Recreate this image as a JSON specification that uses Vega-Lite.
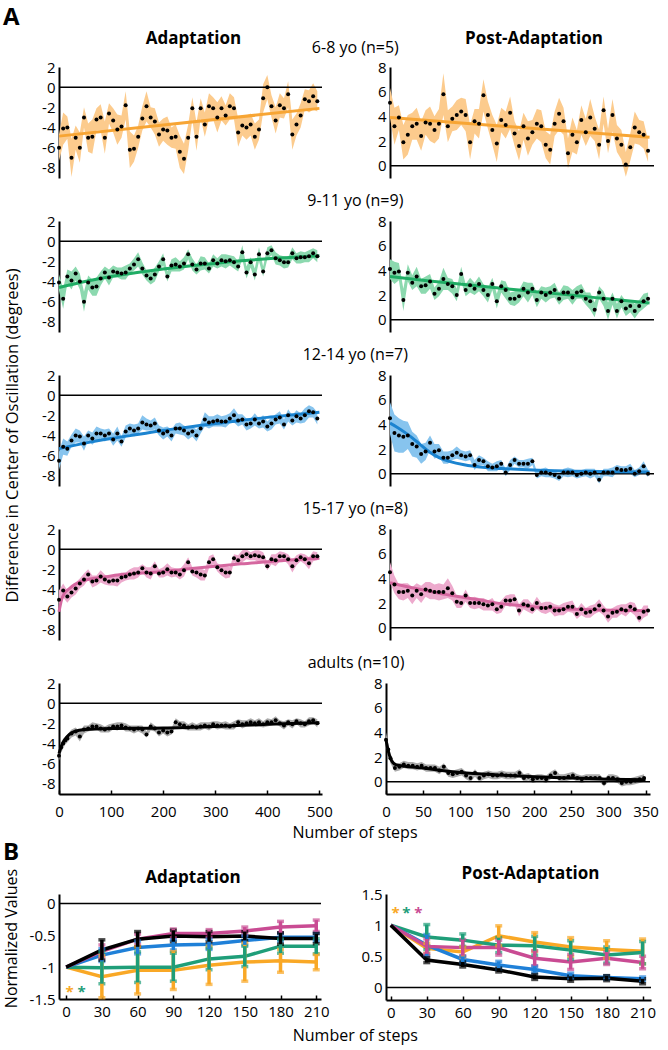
{
"$schema":"https://vega.github.io/schema/vega-lite/v6.json",
"padding":{"left":3,"top":6,"right":2,"bottom":3},
"background":"white",
"title":{"text":"A","anchor":"start","fontSize":24,"fontWeight":"bold","offset":0},
"spacing":0,
"datasets":{
"a1":[{"x":0,"y":-6,"e":1.3},{"x":8,"y":-4.1,"e":1.6},{"x":16,"y":-4,"e":1.1},{"x":24,"y":-7,"e":1.9},{"x":32,"y":-5,"e":1.2},{"x":40,"y":-6,"e":1.5},{"x":48,"y":-3,"e":1},{"x":56,"y":-5,"e":1.4},{"x":64,"y":-4.9,"e":1.7},{"x":72,"y":-3.2,"e":1.1},{"x":80,"y":-3,"e":1.3},{"x":88,"y":-5,"e":1.6},{"x":96,"y":-2.6,"e":1},{"x":104,"y":-3.3,"e":1.2},{"x":112,"y":-4.2,"e":1.5},{"x":120,"y":-3.9,"e":1.1},{"x":128,"y":-1.8,"e":1.4},{"x":136,"y":-6.2,"e":1.8},{"x":144,"y":-6.1,"e":1.3},{"x":152,"y":-4.9,"e":1.1},{"x":160,"y":-3.1,"e":1.2},{"x":168,"y":-1.9,"e":1.5},{"x":176,"y":-3,"e":1},{"x":184,"y":-3.4,"e":1.3},{"x":192,"y":-4.7,"e":1.2},{"x":200,"y":-4.2,"e":1.1},{"x":208,"y":-4.3,"e":1.4},{"x":216,"y":-5,"e":1},{"x":224,"y":-4.9,"e":1.2},{"x":232,"y":-6.4,"e":1.6},{"x":240,"y":-7.1,"e":1.5},{"x":248,"y":-5,"e":1.3},{"x":256,"y":-2.1,"e":1.1},{"x":264,"y":-4.9,"e":1.4},{"x":272,"y":-2.1,"e":1},{"x":280,"y":-3.7,"e":1.2},{"x":288,"y":-1.9,"e":1.3},{"x":296,"y":-2.1,"e":1.1},{"x":304,"y":-3,"e":1.5},{"x":312,"y":-2.1,"e":1.2},{"x":320,"y":-2.8,"e":1},{"x":328,"y":-1.9,"e":1.3},{"x":336,"y":-2.1,"e":1.1},{"x":344,"y":-4.5,"e":1.4},{"x":352,"y":-3.8,"e":1},{"x":360,"y":-4,"e":1.2},{"x":368,"y":-3.7,"e":1.1},{"x":376,"y":-4.9,"e":1.3},{"x":384,"y":-4.2,"e":1},{"x":392,"y":-1.1,"e":1.4},{"x":400,"y":0,"e":1.2},{"x":408,"y":-1.9,"e":1.1},{"x":416,"y":-3.3,"e":1.3},{"x":424,"y":-1.8,"e":1.2},{"x":432,"y":-2.1,"e":1},{"x":440,"y":-0.7,"e":1.3},{"x":448,"y":-4.7,"e":1.5},{"x":456,"y":-3.7,"e":1.1},{"x":464,"y":-2.8,"e":1.2},{"x":472,"y":-1.2,"e":1},{"x":480,"y":-1.4,"e":1.1},{"x":488,"y":-0.9,"e":1.3},{"x":496,"y":-1.4,"e":1}],
"p1":[{"x":0,"y":5.1,"e":1.2},{"x":6,"y":3.2,"e":1.5},{"x":12,"y":3.9,"e":1},{"x":18,"y":1.9,"e":1.4},{"x":24,"y":2.5,"e":1.6},{"x":30,"y":3.2,"e":1.1},{"x":36,"y":3.4,"e":1.3},{"x":42,"y":2.4,"e":1.2},{"x":48,"y":3.5,"e":1},{"x":54,"y":3.4,"e":1.4},{"x":60,"y":2.9,"e":1.1},{"x":66,"y":3.4,"e":1.2},{"x":72,"y":5.8,"e":1.7},{"x":78,"y":3.2,"e":1.3},{"x":84,"y":3.8,"e":1},{"x":90,"y":4.1,"e":1.2},{"x":96,"y":4.4,"e":1.1},{"x":102,"y":4.1,"e":1.3},{"x":108,"y":1.9,"e":1.4},{"x":114,"y":3.6,"e":1},{"x":120,"y":3.4,"e":1.2},{"x":126,"y":5.7,"e":1.3},{"x":132,"y":4.1,"e":1.1},{"x":138,"y":2.9,"e":1.2},{"x":144,"y":1.8,"e":1.5},{"x":150,"y":3.7,"e":1},{"x":156,"y":3.3,"e":1.1},{"x":162,"y":4.3,"e":1.3},{"x":168,"y":2.6,"e":1},{"x":174,"y":1.6,"e":1.2},{"x":180,"y":3.2,"e":1.1},{"x":186,"y":2.2,"e":1.4},{"x":192,"y":2.7,"e":1},{"x":198,"y":3.4,"e":1.2},{"x":204,"y":3.2,"e":1.3},{"x":210,"y":1.7,"e":1.1},{"x":216,"y":1.3,"e":1.2},{"x":222,"y":3.4,"e":1},{"x":228,"y":4.2,"e":1.3},{"x":234,"y":3.6,"e":1.1},{"x":240,"y":1,"e":1.2},{"x":246,"y":2.5,"e":1.4},{"x":252,"y":1.9,"e":1},{"x":258,"y":3.7,"e":1.2},{"x":264,"y":2.7,"e":1.1},{"x":270,"y":3.9,"e":1.5},{"x":276,"y":3,"e":1},{"x":282,"y":1.7,"e":1.2},{"x":288,"y":4.5,"e":1.1},{"x":294,"y":2,"e":1},{"x":300,"y":4.1,"e":1.3},{"x":306,"y":2.2,"e":1.1},{"x":312,"y":1.7,"e":1.2},{"x":318,"y":0.1,"e":1},{"x":324,"y":1.5,"e":1.1},{"x":330,"y":3.1,"e":1.3},{"x":336,"y":2.7,"e":1},{"x":342,"y":2.5,"e":1.1},{"x":348,"y":1.2,"e":0.9}],
"a2":[{"x":0,"y":-4.1,"e":0.8},{"x":8,"y":-5.7,"e":1},{"x":16,"y":-3.5,"e":0.7},{"x":24,"y":-3.9,"e":0.9},{"x":32,"y":-3.2,"e":0.7},{"x":40,"y":-4,"e":0.8},{"x":48,"y":-6,"e":1},{"x":56,"y":-4.1,"e":0.7},{"x":64,"y":-4.6,"e":0.8},{"x":72,"y":-4.5,"e":0.9},{"x":80,"y":-3.7,"e":0.7},{"x":88,"y":-3.1,"e":0.6},{"x":96,"y":-3.6,"e":0.8},{"x":104,"y":-3,"e":0.6},{"x":112,"y":-3.1,"e":0.5},{"x":120,"y":-3.2,"e":0.6},{"x":128,"y":-3.1,"e":0.7},{"x":136,"y":-2.7,"e":0.5},{"x":144,"y":-2.3,"e":0.6},{"x":152,"y":-1.8,"e":0.7},{"x":160,"y":-2.7,"e":0.6},{"x":168,"y":-3.4,"e":0.5},{"x":176,"y":-3.7,"e":0.6},{"x":184,"y":-3.3,"e":0.7},{"x":192,"y":-2.5,"e":0.5},{"x":200,"y":-1.8,"e":0.6},{"x":208,"y":-3.5,"e":0.5},{"x":216,"y":-2.4,"e":0.6},{"x":224,"y":-2.3,"e":0.7},{"x":232,"y":-2.5,"e":0.5},{"x":240,"y":-2.2,"e":0.6},{"x":248,"y":-1.3,"e":0.5},{"x":256,"y":-2.3,"e":0.6},{"x":264,"y":-2.8,"e":0.5},{"x":272,"y":-2.2,"e":0.7},{"x":280,"y":-2.2,"e":0.6},{"x":288,"y":-2.7,"e":0.5},{"x":296,"y":-1.9,"e":0.6},{"x":304,"y":-2.2,"e":0.5},{"x":312,"y":-1.9,"e":0.6},{"x":320,"y":-2,"e":0.7},{"x":328,"y":-1.9,"e":0.5},{"x":336,"y":-2.1,"e":0.6},{"x":344,"y":-2.5,"e":0.5},{"x":352,"y":-1.1,"e":0.7},{"x":360,"y":-3.1,"e":0.6},{"x":368,"y":-2.1,"e":0.5},{"x":376,"y":-3.3,"e":0.6},{"x":384,"y":-1.3,"e":0.7},{"x":392,"y":-3,"e":0.5},{"x":400,"y":-1.2,"e":0.6},{"x":408,"y":-0.9,"e":0.5},{"x":416,"y":-1.7,"e":0.6},{"x":424,"y":-1.9,"e":0.5},{"x":432,"y":-2.1,"e":0.6},{"x":440,"y":-2.1,"e":0.5},{"x":448,"y":-1.2,"e":0.6},{"x":456,"y":-1.7,"e":0.5},{"x":464,"y":-1.6,"e":0.6},{"x":472,"y":-1.6,"e":0.5},{"x":480,"y":-1.5,"e":0.6},{"x":488,"y":-1.2,"e":0.5},{"x":496,"y":-1.5,"e":0.6}],
"p2":[{"x":0,"y":4.1,"e":0.8},{"x":6,"y":3.8,"e":0.9},{"x":12,"y":3.9,"e":0.7},{"x":18,"y":1.6,"e":0.9},{"x":24,"y":3.8,"e":0.7},{"x":30,"y":3,"e":0.6},{"x":36,"y":3.5,"e":0.8},{"x":42,"y":2.7,"e":0.6},{"x":48,"y":2.8,"e":0.7},{"x":54,"y":3.1,"e":0.6},{"x":60,"y":2.1,"e":0.5},{"x":66,"y":2.5,"e":0.6},{"x":72,"y":3.3,"e":0.9},{"x":78,"y":2.9,"e":0.5},{"x":84,"y":2.7,"e":0.6},{"x":90,"y":2,"e":0.5},{"x":96,"y":3.7,"e":0.6},{"x":102,"y":2.4,"e":0.5},{"x":108,"y":2.8,"e":0.6},{"x":114,"y":2.5,"e":0.5},{"x":120,"y":2.9,"e":0.6},{"x":126,"y":2.4,"e":0.5},{"x":132,"y":2,"e":0.6},{"x":138,"y":2.9,"e":0.5},{"x":144,"y":1.5,"e":0.6},{"x":150,"y":2.7,"e":0.5},{"x":156,"y":2.4,"e":0.7},{"x":162,"y":1.7,"e":0.5},{"x":168,"y":1.7,"e":0.6},{"x":174,"y":1.9,"e":0.5},{"x":180,"y":2.5,"e":0.6},{"x":186,"y":2.2,"e":0.8},{"x":192,"y":2.5,"e":0.5},{"x":198,"y":1.6,"e":0.6},{"x":204,"y":2.2,"e":0.5},{"x":210,"y":2,"e":0.6},{"x":216,"y":2.2,"e":0.5},{"x":222,"y":2.4,"e":0.6},{"x":228,"y":1.7,"e":0.5},{"x":234,"y":2.2,"e":0.6},{"x":240,"y":2.2,"e":0.5},{"x":246,"y":1.8,"e":0.6},{"x":252,"y":2.2,"e":0.5},{"x":258,"y":2.3,"e":0.6},{"x":264,"y":1.7,"e":0.5},{"x":270,"y":1.5,"e":0.7},{"x":276,"y":0.8,"e":0.6},{"x":282,"y":2.2,"e":0.5},{"x":288,"y":1.7,"e":0.6},{"x":294,"y":0.7,"e":0.7},{"x":300,"y":1.7,"e":0.5},{"x":306,"y":0.7,"e":0.6},{"x":312,"y":1.5,"e":0.5},{"x":318,"y":0.9,"e":0.6},{"x":324,"y":1.1,"e":0.5},{"x":330,"y":0.7,"e":0.6},{"x":336,"y":1.1,"e":0.5},{"x":342,"y":1.5,"e":0.6},{"x":348,"y":1.7,"e":0.5}],
"a3":[{"x":0,"y":-6.5,"e":0.9},{"x":8,"y":-5.1,"e":0.8},{"x":16,"y":-5.3,"e":0.7},{"x":24,"y":-4.5,"e":0.6},{"x":32,"y":-4,"e":0.7},{"x":40,"y":-4.1,"e":0.6},{"x":48,"y":-4.8,"e":0.7},{"x":56,"y":-4,"e":0.5},{"x":64,"y":-4.3,"e":0.6},{"x":72,"y":-3.8,"e":0.7},{"x":80,"y":-3.8,"e":0.5},{"x":88,"y":-4,"e":0.6},{"x":96,"y":-3.8,"e":0.5},{"x":104,"y":-4.4,"e":0.6},{"x":112,"y":-3.8,"e":0.7},{"x":120,"y":-4.6,"e":0.5},{"x":128,"y":-3.6,"e":0.6},{"x":136,"y":-3.3,"e":0.5},{"x":144,"y":-3.5,"e":0.6},{"x":152,"y":-3.3,"e":0.5},{"x":160,"y":-2.7,"e":0.7},{"x":168,"y":-2.9,"e":0.6},{"x":176,"y":-3,"e":0.5},{"x":184,"y":-2.8,"e":0.6},{"x":192,"y":-3.5,"e":0.5},{"x":200,"y":-3.8,"e":0.6},{"x":208,"y":-3.6,"e":0.5},{"x":216,"y":-4,"e":0.6},{"x":224,"y":-3.3,"e":0.5},{"x":232,"y":-3.3,"e":0.6},{"x":240,"y":-3.5,"e":0.5},{"x":248,"y":-3.8,"e":0.6},{"x":256,"y":-3.6,"e":0.5},{"x":264,"y":-4,"e":0.6},{"x":272,"y":-3.3,"e":0.5},{"x":280,"y":-2.4,"e":0.7},{"x":288,"y":-2.7,"e":0.6},{"x":296,"y":-2.6,"e":0.5},{"x":304,"y":-2.5,"e":0.6},{"x":312,"y":-2.6,"e":0.5},{"x":320,"y":-2.6,"e":0.6},{"x":328,"y":-2.3,"e":0.5},{"x":336,"y":-2,"e":0.7},{"x":344,"y":-2.5,"e":0.6},{"x":352,"y":-2.4,"e":0.5},{"x":360,"y":-2.9,"e":0.6},{"x":368,"y":-2.8,"e":0.5},{"x":376,"y":-2.4,"e":0.6},{"x":384,"y":-2.8,"e":0.5},{"x":392,"y":-2.6,"e":0.6},{"x":400,"y":-3.1,"e":0.5},{"x":408,"y":-2.8,"e":0.6},{"x":416,"y":-2.4,"e":0.5},{"x":424,"y":-2.2,"e":0.6},{"x":432,"y":-2.9,"e":0.5},{"x":440,"y":-2,"e":0.6},{"x":448,"y":-2.5,"e":0.5},{"x":456,"y":-2.1,"e":0.6},{"x":464,"y":-2.3,"e":0.5},{"x":472,"y":-2,"e":0.7},{"x":480,"y":-1.6,"e":0.6},{"x":488,"y":-1.7,"e":0.5},{"x":496,"y":-2.3,"e":0.6}],
"p3":[{"x":0,"y":4.5,"e":1.3},{"x":6,"y":3.3,"e":1.5},{"x":12,"y":3.1,"e":1.4},{"x":18,"y":3,"e":1.3},{"x":24,"y":3.1,"e":1.1},{"x":30,"y":2.4,"e":1},{"x":36,"y":2.2,"e":0.9},{"x":42,"y":1.6,"e":0.8},{"x":48,"y":1.8,"e":0.7},{"x":54,"y":2.5,"e":0.6},{"x":60,"y":1.8,"e":0.6},{"x":66,"y":1.9,"e":0.5},{"x":72,"y":1.3,"e":0.5},{"x":78,"y":1.3,"e":0.5},{"x":84,"y":1.5,"e":0.4},{"x":90,"y":1.7,"e":0.5},{"x":96,"y":1.5,"e":0.4},{"x":102,"y":1.4,"e":0.4},{"x":108,"y":1.5,"e":0.4},{"x":114,"y":0.7,"e":0.4},{"x":120,"y":1.1,"e":0.4},{"x":126,"y":1,"e":0.3},{"x":132,"y":0.6,"e":0.4},{"x":138,"y":0.5,"e":0.3},{"x":144,"y":0.6,"e":0.4},{"x":150,"y":0.8,"e":0.3},{"x":156,"y":0.1,"e":0.3},{"x":162,"y":0.7,"e":0.4},{"x":168,"y":1.1,"e":0.3},{"x":174,"y":0.8,"e":0.3},{"x":180,"y":0.8,"e":0.3},{"x":186,"y":0.8,"e":0.4},{"x":192,"y":1,"e":0.3},{"x":198,"y":-0.1,"e":0.3},{"x":204,"y":0.1,"e":0.3},{"x":210,"y":0.1,"e":0.4},{"x":216,"y":0,"e":0.3},{"x":222,"y":-0.1,"e":0.3},{"x":228,"y":-0.3,"e":0.3},{"x":234,"y":0.1,"e":0.3},{"x":240,"y":0.1,"e":0.4},{"x":246,"y":0.1,"e":0.3},{"x":252,"y":-0.1,"e":0.3},{"x":258,"y":0,"e":0.3},{"x":264,"y":0.1,"e":0.3},{"x":270,"y":0,"e":0.4},{"x":276,"y":0.1,"e":0.3},{"x":282,"y":-0.5,"e":0.3},{"x":288,"y":0.1,"e":0.3},{"x":294,"y":0.1,"e":0.3},{"x":300,"y":0.1,"e":0.4},{"x":306,"y":0.4,"e":0.3},{"x":312,"y":0.3,"e":0.3},{"x":318,"y":0.3,"e":0.3},{"x":324,"y":0.4,"e":0.4},{"x":330,"y":0,"e":0.3},{"x":336,"y":0.2,"e":0.3},{"x":342,"y":0.6,"e":0.4},{"x":348,"y":0,"e":0.3}],
"a4":[{"x":0,"y":-5,"e":0.9},{"x":8,"y":-4.1,"e":0.7},{"x":16,"y":-4.7,"e":0.6},{"x":24,"y":-4.3,"e":0.5},{"x":32,"y":-3.9,"e":0.6},{"x":40,"y":-3.4,"e":0.5},{"x":48,"y":-3,"e":0.6},{"x":56,"y":-2.5,"e":0.5},{"x":64,"y":-3.2,"e":0.6},{"x":72,"y":-3.1,"e":0.5},{"x":80,"y":-2.7,"e":0.6},{"x":88,"y":-3,"e":0.5},{"x":96,"y":-3.2,"e":0.4},{"x":104,"y":-3.1,"e":0.5},{"x":112,"y":-3.1,"e":0.6},{"x":120,"y":-2.8,"e":0.5},{"x":128,"y":-2.7,"e":0.4},{"x":136,"y":-2.5,"e":0.5},{"x":144,"y":-2.4,"e":0.6},{"x":152,"y":-2.3,"e":0.5},{"x":160,"y":-1.9,"e":0.4},{"x":168,"y":-2.3,"e":0.5},{"x":176,"y":-2.4,"e":0.6},{"x":184,"y":-1.7,"e":0.5},{"x":192,"y":-2.4,"e":0.4},{"x":200,"y":-2.3,"e":0.5},{"x":208,"y":-2,"e":0.6},{"x":216,"y":-2.3,"e":0.5},{"x":224,"y":-2.3,"e":0.4},{"x":232,"y":-2.5,"e":0.5},{"x":240,"y":-2.1,"e":0.6},{"x":248,"y":-1.3,"e":0.5},{"x":256,"y":-2.2,"e":0.4},{"x":264,"y":-2.3,"e":0.5},{"x":272,"y":-2.5,"e":0.6},{"x":280,"y":-2.6,"e":0.5},{"x":288,"y":-1.3,"e":0.6},{"x":296,"y":-1,"e":0.5},{"x":304,"y":-1.8,"e":0.4},{"x":312,"y":-2.1,"e":0.5},{"x":320,"y":-2.3,"e":0.6},{"x":328,"y":-2.3,"e":0.5},{"x":336,"y":-0.9,"e":0.4},{"x":344,"y":-1.1,"e":0.5},{"x":352,"y":-0.7,"e":0.6},{"x":360,"y":-0.5,"e":0.5},{"x":368,"y":-0.7,"e":0.4},{"x":376,"y":-0.6,"e":0.5},{"x":384,"y":-0.7,"e":0.6},{"x":392,"y":-0.8,"e":0.5},{"x":400,"y":-1.7,"e":0.4},{"x":408,"y":-1,"e":0.5},{"x":416,"y":-1.1,"e":0.6},{"x":424,"y":-0.7,"e":0.5},{"x":432,"y":-0.7,"e":0.4},{"x":440,"y":-1,"e":0.5},{"x":448,"y":-1.7,"e":0.6},{"x":456,"y":-1.1,"e":0.5},{"x":464,"y":-0.8,"e":0.4},{"x":472,"y":-1,"e":0.5},{"x":480,"y":-1.4,"e":0.6},{"x":488,"y":-0.7,"e":0.5},{"x":496,"y":-0.7,"e":0.4}],
"p4":[{"x":0,"y":4.5,"e":0.8},{"x":6,"y":3.5,"e":0.7},{"x":12,"y":2.9,"e":0.6},{"x":18,"y":2.9,"e":0.7},{"x":24,"y":3,"e":0.6},{"x":30,"y":2.6,"e":0.7},{"x":36,"y":3,"e":0.6},{"x":42,"y":2.7,"e":0.7},{"x":48,"y":3.1,"e":0.6},{"x":54,"y":3,"e":0.7},{"x":60,"y":2.9,"e":0.6},{"x":66,"y":2.9,"e":0.7},{"x":72,"y":2.9,"e":0.6},{"x":78,"y":3.2,"e":0.8},{"x":84,"y":2.8,"e":0.6},{"x":90,"y":2.1,"e":0.5},{"x":96,"y":2,"e":0.4},{"x":102,"y":2.6,"e":0.5},{"x":108,"y":2,"e":0.4},{"x":114,"y":2,"e":0.5},{"x":120,"y":2,"e":0.4},{"x":126,"y":1.9,"e":0.5},{"x":132,"y":1.8,"e":0.4},{"x":138,"y":1.9,"e":0.5},{"x":144,"y":1.5,"e":0.4},{"x":150,"y":1.7,"e":0.5},{"x":156,"y":2.2,"e":0.4},{"x":162,"y":2.2,"e":0.5},{"x":168,"y":2.3,"e":0.4},{"x":174,"y":1.4,"e":0.5},{"x":180,"y":1.9,"e":0.4},{"x":186,"y":1.8,"e":0.5},{"x":192,"y":1.5,"e":0.4},{"x":198,"y":2,"e":0.5},{"x":204,"y":1.6,"e":0.4},{"x":210,"y":1.6,"e":0.5},{"x":216,"y":1.7,"e":0.4},{"x":222,"y":1.4,"e":0.5},{"x":228,"y":1.4,"e":0.4},{"x":234,"y":1.5,"e":0.5},{"x":240,"y":1.7,"e":0.4},{"x":246,"y":1.7,"e":0.5},{"x":252,"y":1.1,"e":0.4},{"x":258,"y":1.5,"e":0.5},{"x":264,"y":1.2,"e":0.4},{"x":270,"y":1.3,"e":0.5},{"x":276,"y":1.5,"e":0.4},{"x":282,"y":1.8,"e":0.5},{"x":288,"y":1.4,"e":0.4},{"x":294,"y":0.9,"e":0.5},{"x":300,"y":1.2,"e":0.4},{"x":306,"y":1.3,"e":0.5},{"x":312,"y":1.5,"e":0.4},{"x":318,"y":1.4,"e":0.5},{"x":324,"y":1.7,"e":0.4},{"x":330,"y":1.5,"e":0.5},{"x":336,"y":0.8,"e":0.4},{"x":342,"y":1.3,"e":0.5},{"x":348,"y":1.4,"e":0.4}],
"a5":[{"x":0,"y":-5.2,"e":0.5},{"x":4,"y":-4.4,"e":0.5},{"x":8,"y":-4,"e":0.5},{"x":12,"y":-3.7,"e":0.4},{"x":16,"y":-3.5,"e":0.4},{"x":24,"y":-3,"e":0.4},{"x":32,"y":-2.8,"e":0.4},{"x":40,"y":-3.3,"e":0.5},{"x":48,"y":-2.6,"e":0.4},{"x":56,"y":-2.5,"e":0.3},{"x":64,"y":-2.3,"e":0.4},{"x":72,"y":-2.3,"e":0.3},{"x":80,"y":-2.5,"e":0.4},{"x":88,"y":-2.6,"e":0.3},{"x":96,"y":-2.5,"e":0.4},{"x":104,"y":-2.3,"e":0.3},{"x":112,"y":-2.3,"e":0.4},{"x":120,"y":-2.2,"e":0.3},{"x":128,"y":-2.4,"e":0.4},{"x":136,"y":-2.5,"e":0.3},{"x":144,"y":-2.6,"e":0.4},{"x":152,"y":-2.5,"e":0.3},{"x":160,"y":-2.6,"e":0.4},{"x":168,"y":-3.1,"e":0.3},{"x":176,"y":-2.3,"e":0.4},{"x":184,"y":-2.5,"e":0.3},{"x":192,"y":-2.9,"e":0.4},{"x":200,"y":-2.7,"e":0.3},{"x":208,"y":-2.9,"e":0.4},{"x":216,"y":-2.8,"e":0.3},{"x":224,"y":-1.9,"e":0.4},{"x":232,"y":-2.1,"e":0.3},{"x":240,"y":-2.2,"e":0.4},{"x":248,"y":-2.4,"e":0.3},{"x":256,"y":-2.3,"e":0.4},{"x":264,"y":-2.4,"e":0.3},{"x":272,"y":-2.3,"e":0.4},{"x":280,"y":-2.2,"e":0.3},{"x":288,"y":-2.3,"e":0.4},{"x":296,"y":-2.1,"e":0.3},{"x":304,"y":-2.2,"e":0.4},{"x":312,"y":-2.2,"e":0.3},{"x":320,"y":-2.2,"e":0.4},{"x":328,"y":-2.3,"e":0.3},{"x":336,"y":-2.2,"e":0.4},{"x":344,"y":-1.9,"e":0.3},{"x":352,"y":-2.1,"e":0.4},{"x":360,"y":-2,"e":0.3},{"x":368,"y":-1.9,"e":0.4},{"x":376,"y":-2,"e":0.3},{"x":384,"y":-1.9,"e":0.4},{"x":392,"y":-2.1,"e":0.3},{"x":400,"y":-1.9,"e":0.4},{"x":408,"y":-1.9,"e":0.3},{"x":416,"y":-1.7,"e":0.4},{"x":424,"y":-2,"e":0.3},{"x":432,"y":-2.2,"e":0.4},{"x":440,"y":-1.9,"e":0.3},{"x":448,"y":-2.1,"e":0.4},{"x":456,"y":-1.8,"e":0.3},{"x":464,"y":-2,"e":0.4},{"x":472,"y":-2.1,"e":0.3},{"x":480,"y":-1.8,"e":0.4},{"x":488,"y":-1.7,"e":0.3},{"x":496,"y":-2,"e":0.4}],
"p5":[{"x":0,"y":3.4,"e":0.6},{"x":3,"y":2.6,"e":0.5},{"x":6,"y":1.9,"e":0.4},{"x":12,"y":1.1,"e":0.3},{"x":18,"y":1.2,"e":0.3},{"x":24,"y":1.4,"e":0.3},{"x":30,"y":1.3,"e":0.3},{"x":36,"y":1.3,"e":0.3},{"x":42,"y":1.2,"e":0.3},{"x":48,"y":1.3,"e":0.3},{"x":54,"y":1.1,"e":0.3},{"x":60,"y":1.1,"e":0.3},{"x":66,"y":1.1,"e":0.3},{"x":72,"y":0.9,"e":0.3},{"x":78,"y":1.2,"e":0.3},{"x":84,"y":0.7,"e":0.3},{"x":90,"y":0.6,"e":0.3},{"x":96,"y":0.7,"e":0.3},{"x":102,"y":0.8,"e":0.3},{"x":108,"y":0.5,"e":0.3},{"x":114,"y":0.3,"e":0.3},{"x":120,"y":0.7,"e":0.3},{"x":126,"y":0.3,"e":0.3},{"x":132,"y":0.5,"e":0.3},{"x":138,"y":0.6,"e":0.3},{"x":144,"y":0.5,"e":0.3},{"x":150,"y":0.5,"e":0.3},{"x":156,"y":0.6,"e":0.3},{"x":162,"y":0.5,"e":0.3},{"x":168,"y":0.5,"e":0.3},{"x":174,"y":0.5,"e":0.3},{"x":180,"y":0.7,"e":0.3},{"x":186,"y":0.3,"e":0.3},{"x":192,"y":0.4,"e":0.3},{"x":198,"y":0.2,"e":0.3},{"x":204,"y":0.3,"e":0.3},{"x":210,"y":0.3,"e":0.3},{"x":216,"y":0.2,"e":0.3},{"x":222,"y":0.5,"e":0.3},{"x":228,"y":0.7,"e":0.3},{"x":234,"y":0.3,"e":0.3},{"x":240,"y":0.3,"e":0.3},{"x":246,"y":0.4,"e":0.3},{"x":252,"y":0.5,"e":0.3},{"x":258,"y":0.3,"e":0.3},{"x":264,"y":0.2,"e":0.3},{"x":270,"y":0.3,"e":0.3},{"x":276,"y":0.3,"e":0.3},{"x":282,"y":0.3,"e":0.3},{"x":288,"y":0.3,"e":0.3},{"x":294,"y":-0.1,"e":0.3},{"x":300,"y":0.3,"e":0.3},{"x":306,"y":0.3,"e":0.3},{"x":312,"y":0.2,"e":0.3},{"x":318,"y":-0.1,"e":0.3},{"x":324,"y":0,"e":0.3},{"x":330,"y":0,"e":0.3},{"x":336,"y":0.1,"e":0.3},{"x":342,"y":0.2,"e":0.3},{"x":348,"y":0.3,"e":0.3}],
"f":[{"g":"a1","x":0,"y":-4.85},{"g":"a1","x":500,"y":-2.1},
{"g":"p1","x":0,"y":3.9},{"g":"p1","x":350,"y":2.3},
{"g":"a2","x":0,"y":-4.6},{"g":"a2","x":50,"y":-4},{"g":"a2","x":100,"y":-3.5},{"g":"a2","x":150,"y":-3.1},{"g":"a2","x":200,"y":-2.75},{"g":"a2","x":250,"y":-2.45},{"g":"a2","x":300,"y":-2.2},{"g":"a2","x":350,"y":-1.95},{"g":"a2","x":400,"y":-1.75},{"g":"a2","x":450,"y":-1.6},{"g":"a2","x":500,"y":-1.45},
{"g":"p2","x":0,"y":3.5},{"g":"p2","x":50,"y":3.15},{"g":"p2","x":100,"y":2.85},{"g":"p2","x":150,"y":2.55},{"g":"p2","x":200,"y":2.25},{"g":"p2","x":250,"y":1.95},{"g":"p2","x":300,"y":1.65},{"g":"p2","x":350,"y":1.35},
{"g":"a3","x":0,"y":-5.3},{"g":"a3","x":50,"y":-4.75},{"g":"a3","x":100,"y":-4.3},{"g":"a3","x":150,"y":-3.9},{"g":"a3","x":200,"y":-3.5},{"g":"a3","x":250,"y":-3.15},{"g":"a3","x":300,"y":-2.8},{"g":"a3","x":350,"y":-2.5},{"g":"a3","x":400,"y":-2.2},{"g":"a3","x":450,"y":-1.95},{"g":"a3","x":500,"y":-1.7},
{"g":"p3","x":0,"y":4.1},{"g":"p3","x":10,"y":3.75},{"g":"p3","x":20,"y":3.35},{"g":"p3","x":30,"y":2.9},{"g":"p3","x":40,"y":2.4},{"g":"p3","x":50,"y":1.9},{"g":"p3","x":60,"y":1.5},{"g":"p3","x":70,"y":1.2},{"g":"p3","x":80,"y":1},{"g":"p3","x":100,"y":0.72},{"g":"p3","x":125,"y":0.52},{"g":"p3","x":150,"y":0.42},{"g":"p3","x":200,"y":0.28},{"g":"p3","x":250,"y":0.2},{"g":"p3","x":300,"y":0.16},{"g":"p3","x":350,"y":0.14},
{"g":"a4","x":0,"y":-6.2},{"g":"a4","x":5,"y":-5},{"g":"a4","x":10,"y":-4.4},{"g":"a4","x":20,"y":-3.9},{"g":"a4","x":30,"y":-3.5},{"g":"a4","x":45,"y":-3.15},{"g":"a4","x":60,"y":-2.95},{"g":"a4","x":80,"y":-2.8},{"g":"a4","x":100,"y":-2.65},{"g":"a4","x":150,"y":-2.4},{"g":"a4","x":200,"y":-2.2},{"g":"a4","x":250,"y":-1.95},{"g":"a4","x":300,"y":-1.7},{"g":"a4","x":350,"y":-1.45},{"g":"a4","x":400,"y":-1.25},{"g":"a4","x":450,"y":-1.05},{"g":"a4","x":500,"y":-0.9},
{"g":"p4","x":0,"y":3.65},{"g":"p4","x":25,"y":3.3},{"g":"p4","x":50,"y":3},{"g":"p4","x":75,"y":2.7},{"g":"p4","x":100,"y":2.45},{"g":"p4","x":125,"y":2.2},{"g":"p4","x":150,"y":1.95},{"g":"p4","x":175,"y":1.8},{"g":"p4","x":200,"y":1.65},{"g":"p4","x":250,"y":1.5},{"g":"p4","x":300,"y":1.42},{"g":"p4","x":350,"y":1.38},
{"g":"a5","x":0,"y":-5},{"g":"a5","x":5,"y":-4.2},{"g":"a5","x":10,"y":-3.7},{"g":"a5","x":20,"y":-3.1},{"g":"a5","x":30,"y":-2.8},{"g":"a5","x":50,"y":-2.6},{"g":"a5","x":100,"y":-2.5},{"g":"a5","x":200,"y":-2.45},{"g":"a5","x":300,"y":-2.3},{"g":"a5","x":400,"y":-2.1},{"g":"a5","x":500,"y":-1.95},
{"g":"p5","x":0,"y":3.4},{"g":"p5","x":3,"y":2.5},{"g":"p5","x":6,"y":1.9},{"g":"p5","x":10,"y":1.5},{"g":"p5","x":15,"y":1.35},{"g":"p5","x":25,"y":1.25},{"g":"p5","x":50,"y":1.1},{"g":"p5","x":75,"y":0.9},{"g":"p5","x":100,"y":0.75},{"g":"p5","x":150,"y":0.55},{"g":"p5","x":200,"y":0.4},{"g":"p5","x":250,"y":0.3},{"g":"p5","x":300,"y":0.2},{"g":"p5","x":350,"y":0.15}],
"z":[{"g":"L","x":0,"y":0},{"g":"L","x":505,"y":0},{"g":"R","x":0,"y":0},{"g":"R","x":356,"y":0},{"g":"BL","x":-6,"y":0},{"g":"BL","x":214,"y":0},{"g":"BR","x":-4,"y":0},{"g":"BR","x":217,"y":0}],
"b":[
{"t":"A","s":"o","x":0,"y":-1,"e":0},{"t":"A","s":"o","x":30,"y":-1.15,"e":0.33},{"t":"A","s":"o","x":60,"y":-1.05,"e":0.37},{"t":"A","s":"o","x":90,"y":-1.05,"e":0.3},{"t":"A","s":"o","x":120,"y":-0.97,"e":0.3},{"t":"A","s":"o","x":150,"y":-0.92,"e":0.3},{"t":"A","s":"o","x":180,"y":-0.9,"e":0.18},{"t":"A","s":"o","x":210,"y":-0.92,"e":0.12},
{"t":"A","s":"g","x":0,"y":-1,"e":0},{"t":"A","s":"g","x":30,"y":-1.01,"e":0.25},{"t":"A","s":"g","x":60,"y":-1,"e":0.24},{"t":"A","s":"g","x":90,"y":-1,"e":0.22},{"t":"A","s":"g","x":120,"y":-0.87,"e":0.17},{"t":"A","s":"g","x":150,"y":-0.83,"e":0.16},{"t":"A","s":"g","x":180,"y":-0.67,"e":0.11},{"t":"A","s":"g","x":210,"y":-0.67,"e":0.12},
{"t":"A","s":"b","x":0,"y":-1,"e":0},{"t":"A","s":"b","x":30,"y":-0.81,"e":0.1},{"t":"A","s":"b","x":60,"y":-0.69,"e":0.1},{"t":"A","s":"b","x":90,"y":-0.65,"e":0.08},{"t":"A","s":"b","x":120,"y":-0.64,"e":0.08},{"t":"A","s":"b","x":150,"y":-0.58,"e":0.07},{"t":"A","s":"b","x":180,"y":-0.53,"e":0.06},{"t":"A","s":"b","x":210,"y":-0.53,"e":0.06},
{"t":"A","s":"p","x":0,"y":-1,"e":0},{"t":"A","s":"p","x":30,"y":-0.75,"e":0.1},{"t":"A","s":"p","x":60,"y":-0.56,"e":0.08},{"t":"A","s":"p","x":90,"y":-0.47,"e":0.07},{"t":"A","s":"p","x":120,"y":-0.47,"e":0.06},{"t":"A","s":"p","x":150,"y":-0.43,"e":0.06},{"t":"A","s":"p","x":180,"y":-0.37,"e":0.09},{"t":"A","s":"p","x":210,"y":-0.35,"e":0.09},
{"t":"A","s":"k","x":0,"y":-1,"e":0},{"t":"A","s":"k","x":30,"y":-0.73,"e":0.16},{"t":"A","s":"k","x":60,"y":-0.56,"e":0.12},{"t":"A","s":"k","x":90,"y":-0.51,"e":0.09},{"t":"A","s":"k","x":120,"y":-0.52,"e":0.08},{"t":"A","s":"k","x":150,"y":-0.51,"e":0.07},{"t":"A","s":"k","x":180,"y":-0.55,"e":0.09},{"t":"A","s":"k","x":210,"y":-0.55,"e":0.08},
{"t":"P","s":"o","x":0,"y":1,"e":0},{"t":"P","s":"o","x":30,"y":0.63,"e":0.08},{"t":"P","s":"o","x":60,"y":0.57,"e":0.08},{"t":"P","s":"o","x":90,"y":0.83,"e":0.16},{"t":"P","s":"o","x":120,"y":0.73,"e":0.15},{"t":"P","s":"o","x":150,"y":0.65,"e":0.15},{"t":"P","s":"o","x":180,"y":0.61,"e":0.14},{"t":"P","s":"o","x":210,"y":0.58,"e":0.2},
{"t":"P","s":"g","x":0,"y":1,"e":0},{"t":"P","s":"g","x":30,"y":0.81,"e":0.2},{"t":"P","s":"g","x":60,"y":0.76,"e":0.1},{"t":"P","s":"g","x":90,"y":0.68,"e":0.12},{"t":"P","s":"g","x":120,"y":0.67,"e":0.15},{"t":"P","s":"g","x":150,"y":0.6,"e":0.15},{"t":"P","s":"g","x":180,"y":0.52,"e":0.13},{"t":"P","s":"g","x":210,"y":0.56,"e":0.18},
{"t":"P","s":"b","x":0,"y":1,"e":0},{"t":"P","s":"b","x":30,"y":0.68,"e":0.17},{"t":"P","s":"b","x":60,"y":0.45,"e":0.05},{"t":"P","s":"b","x":90,"y":0.36,"e":0.06},{"t":"P","s":"b","x":120,"y":0.29,"e":0.05},{"t":"P","s":"b","x":150,"y":0.19,"e":0.04},{"t":"P","s":"b","x":180,"y":0.16,"e":0.03},{"t":"P","s":"b","x":210,"y":0.14,"e":0.03},
{"t":"P","s":"p","x":0,"y":1,"e":0},{"t":"P","s":"p","x":30,"y":0.66,"e":0.12},{"t":"P","s":"p","x":60,"y":0.64,"e":0.13},{"t":"P","s":"p","x":90,"y":0.64,"e":0.12},{"t":"P","s":"p","x":120,"y":0.47,"e":0.12},{"t":"P","s":"p","x":150,"y":0.41,"e":0.12},{"t":"P","s":"p","x":180,"y":0.47,"e":0.1},{"t":"P","s":"p","x":210,"y":0.4,"e":0.1},
{"t":"P","s":"k","x":0,"y":1,"e":0},{"t":"P","s":"k","x":30,"y":0.44,"e":0.04},{"t":"P","s":"k","x":60,"y":0.37,"e":0.04},{"t":"P","s":"k","x":90,"y":0.28,"e":0.03},{"t":"P","s":"k","x":120,"y":0.17,"e":0.04},{"t":"P","s":"k","x":150,"y":0.14,"e":0.04},{"t":"P","s":"k","x":180,"y":0.15,"e":0.04},{"t":"P","s":"k","x":210,"y":0.1,"e":0.04}],
"s":[{"t":"A","s":"o","x":3,"y":-1.36},{"t":"A","s":"g","x":13,"y":-1.36},{"t":"P","s":"o","x":4,"y":1.25},{"t":"P","s":"g","x":13,"y":1.25},{"t":"P","s":"p","x":23,"y":1.25}]
},
"vconcat":[
{"title":{"text":"Difference in Center of Oscillation (degrees)","orient":"left","anchor":"middle","fontSize":16.5,"fontWeight":"normal","offset":20},
 "spacing":15,
 "vconcat":[
  {"title":{"text":"6-8 yo (n=5)","anchor":"middle","fontSize":16,"fontWeight":"normal","dx":6,"dy":29,"offset":3},"spacing":51,
   "hconcat":[
    {"width":263,"height":111,"title":{"text":"Adaptation","dx":3,"offset":12},
     "encoding":{"x":{"field":"x","type":"quantitative","scale":{"domain":[0,505]},"axis":null},"y":{"field":"y","type":"quantitative","scale":{"domain":[-9,2]},"axis":{"values":[-8,-6,-4,-2,0,2],"title":null}}},
     "layer":[
      {"data":{"name":"a1"},"mark":{"type":"errorband","color":"#FCCB8D","band":{"opacity":1}},"encoding":{"yError":{"field":"e"}}},
      {"data":{"name":"z"},"transform":[{"filter":"datum.g=='L'"}],"mark":{"type":"line","color":"#000","strokeWidth":1.5},"encoding":{}},
      {"data":{"name":"f"},"transform":[{"filter":"datum.g=='a1'"}],"mark":{"type":"line","color":"#F7A534","strokeWidth":3,"interpolate":"monotone"},"encoding":{}},
      {"data":{"name":"a1"},"mark":{"type":"circle","color":"#000","size":16,"opacity":1},"encoding":{}}
     ]},
    {"width":264,"height":111,"title":{"text":"Post-Adaptation","dx":12,"offset":12},
     "encoding":{"x":{"field":"x","type":"quantitative","scale":{"domain":[0,356]},"axis":null},"y":{"field":"y","type":"quantitative","scale":{"domain":[-1,8]},"axis":{"values":[0,2,4,6,8],"title":null}}},
     "layer":[
      {"data":{"name":"p1"},"mark":{"type":"errorband","color":"#FCCB8D","band":{"opacity":1}},"encoding":{"yError":{"field":"e"}}},
      {"data":{"name":"z"},"transform":[{"filter":"datum.g=='R'"}],"mark":{"type":"line","color":"#000","strokeWidth":1.5},"encoding":{}},
      {"data":{"name":"f"},"transform":[{"filter":"datum.g=='p1'"}],"mark":{"type":"line","color":"#F7A534","strokeWidth":3,"interpolate":"monotone"},"encoding":{}},
      {"data":{"name":"p1"},"mark":{"type":"circle","color":"#000","size":16,"opacity":1},"encoding":{}}
     ]}
   ]},
  {"title":{"text":"9-11 yo (n=9)","anchor":"middle","fontSize":16,"fontWeight":"normal","dx":6,"offset":5},"spacing":51,
   "hconcat":[
    {"width":263,"height":111,
     "encoding":{"x":{"field":"x","type":"quantitative","scale":{"domain":[0,505]},"axis":null},"y":{"field":"y","type":"quantitative","scale":{"domain":[-9,2]},"axis":{"values":[-8,-6,-4,-2,0,2],"title":null}}},
     "layer":[
      {"data":{"name":"a2"},"mark":{"type":"errorband","color":"#8CD9AF","band":{"opacity":1}},"encoding":{"yError":{"field":"e"}}},
      {"data":{"name":"z"},"transform":[{"filter":"datum.g=='L'"}],"mark":{"type":"line","color":"#000","strokeWidth":1.5},"encoding":{}},
      {"data":{"name":"f"},"transform":[{"filter":"datum.g=='a2'"}],"mark":{"type":"line","color":"#20AD65","strokeWidth":3,"interpolate":"monotone"},"encoding":{}},
      {"data":{"name":"a2"},"mark":{"type":"circle","color":"#000","size":16,"opacity":1},"encoding":{}}
     ]},
    {"width":264,"height":111,
     "encoding":{"x":{"field":"x","type":"quantitative","scale":{"domain":[0,356]},"axis":null},"y":{"field":"y","type":"quantitative","scale":{"domain":[-1,8]},"axis":{"values":[0,2,4,6,8],"title":null}}},
     "layer":[
      {"data":{"name":"p2"},"mark":{"type":"errorband","color":"#8CD9AF","band":{"opacity":1}},"encoding":{"yError":{"field":"e"}}},
      {"data":{"name":"z"},"transform":[{"filter":"datum.g=='R'"}],"mark":{"type":"line","color":"#000","strokeWidth":1.5},"encoding":{}},
      {"data":{"name":"f"},"transform":[{"filter":"datum.g=='p2'"}],"mark":{"type":"line","color":"#20AD65","strokeWidth":3,"interpolate":"monotone"},"encoding":{}},
      {"data":{"name":"p2"},"mark":{"type":"circle","color":"#000","size":16,"opacity":1},"encoding":{}}
     ]}
   ]},
  {"title":{"text":"12-14 yo (n=7)","anchor":"middle","fontSize":16,"fontWeight":"normal","dx":6,"offset":5},"spacing":51,
   "hconcat":[
    {"width":263,"height":111,
     "encoding":{"x":{"field":"x","type":"quantitative","scale":{"domain":[0,505]},"axis":null},"y":{"field":"y","type":"quantitative","scale":{"domain":[-9,2]},"axis":{"values":[-8,-6,-4,-2,0,2],"title":null}}},
     "layer":[
      {"data":{"name":"a3"},"mark":{"type":"errorband","color":"#87C4EE","band":{"opacity":1}},"encoding":{"yError":{"field":"e"}}},
      {"data":{"name":"z"},"transform":[{"filter":"datum.g=='L'"}],"mark":{"type":"line","color":"#000","strokeWidth":1.5},"encoding":{}},
      {"data":{"name":"f"},"transform":[{"filter":"datum.g=='a3'"}],"mark":{"type":"line","color":"#1C84D0","strokeWidth":3,"interpolate":"monotone"},"encoding":{}},
      {"data":{"name":"a3"},"mark":{"type":"circle","color":"#000","size":16,"opacity":1},"encoding":{}}
     ]},
    {"width":264,"height":111,
     "encoding":{"x":{"field":"x","type":"quantitative","scale":{"domain":[0,356]},"axis":null},"y":{"field":"y","type":"quantitative","scale":{"domain":[-1,8]},"axis":{"values":[0,2,4,6,8],"title":null}}},
     "layer":[
      {"data":{"name":"p3"},"mark":{"type":"errorband","color":"#87C4EE","band":{"opacity":1}},"encoding":{"yError":{"field":"e"}}},
      {"data":{"name":"z"},"transform":[{"filter":"datum.g=='R'"}],"mark":{"type":"line","color":"#000","strokeWidth":1.5},"encoding":{}},
      {"data":{"name":"f"},"transform":[{"filter":"datum.g=='p3'"}],"mark":{"type":"line","color":"#1C84D0","strokeWidth":3,"interpolate":"monotone"},"encoding":{}},
      {"data":{"name":"p3"},"mark":{"type":"circle","color":"#000","size":16,"opacity":1},"encoding":{}}
     ]}
   ]},
  {"title":{"text":"15-17 yo (n=8)","anchor":"middle","fontSize":16,"fontWeight":"normal","dx":6,"offset":5},"spacing":51,
   "hconcat":[
    {"width":263,"height":111,
     "encoding":{"x":{"field":"x","type":"quantitative","scale":{"domain":[0,505]},"axis":null},"y":{"field":"y","type":"quantitative","scale":{"domain":[-9,2]},"axis":{"values":[-8,-6,-4,-2,0,2],"title":null}}},
     "layer":[
      {"data":{"name":"a4"},"mark":{"type":"errorband","color":"#EDAACD","band":{"opacity":1}},"encoding":{"yError":{"field":"e"}}},
      {"data":{"name":"z"},"transform":[{"filter":"datum.g=='L'"}],"mark":{"type":"line","color":"#000","strokeWidth":1.5},"encoding":{}},
      {"data":{"name":"f"},"transform":[{"filter":"datum.g=='a4'"}],"mark":{"type":"line","color":"#D5679F","strokeWidth":3,"interpolate":"monotone"},"encoding":{}},
      {"data":{"name":"a4"},"mark":{"type":"circle","color":"#000","size":16,"opacity":1},"encoding":{}}
     ]},
    {"width":264,"height":111,
     "encoding":{"x":{"field":"x","type":"quantitative","scale":{"domain":[0,356]},"axis":null},"y":{"field":"y","type":"quantitative","scale":{"domain":[-1,8]},"axis":{"values":[0,2,4,6,8],"title":null}}},
     "layer":[
      {"data":{"name":"p4"},"mark":{"type":"errorband","color":"#EDAACD","band":{"opacity":1}},"encoding":{"yError":{"field":"e"}}},
      {"data":{"name":"z"},"transform":[{"filter":"datum.g=='R'"}],"mark":{"type":"line","color":"#000","strokeWidth":1.5},"encoding":{}},
      {"data":{"name":"f"},"transform":[{"filter":"datum.g=='p4'"}],"mark":{"type":"line","color":"#D5679F","strokeWidth":3,"interpolate":"monotone"},"encoding":{}},
      {"data":{"name":"p4"},"mark":{"type":"circle","color":"#000","size":16,"opacity":1},"encoding":{}}
     ]}
   ]},
  {"title":{"text":"Number of steps","orient":"bottom","anchor":"middle","fontSize":16,"fontWeight":"normal","dx":5,"offset":6},
   "vconcat":[
   {"title":{"text":"adults (n=10)","anchor":"middle","fontSize":16,"fontWeight":"normal","dx":6,"offset":5},"spacing":40,
    "hconcat":[
     {"width":263,"height":111,
      "encoding":{"x":{"field":"x","type":"quantitative","scale":{"domain":[0,505]},"axis":{"values":[0,100,200,300,400,500],"title":null,"ticks":true,"tickSize":-4,"tickWidth":1.5,"tickColor":"#000","labelPadding":14}},"y":{"field":"y","type":"quantitative","scale":{"domain":[-9,2]},"axis":{"values":[-8,-6,-4,-2,0,2],"title":null}}},
      "layer":[
       {"data":{"name":"a5"},"mark":{"type":"errorband","color":"#ABABAB","band":{"opacity":1}},"encoding":{"yError":{"field":"e"}}},
       {"data":{"name":"z"},"transform":[{"filter":"datum.g=='L'"}],"mark":{"type":"line","color":"#000","strokeWidth":1.5},"encoding":{}},
       {"data":{"name":"f"},"transform":[{"filter":"datum.g=='a5'"}],"mark":{"type":"line","color":"#000","strokeWidth":3,"interpolate":"monotone"},"encoding":{}},
       {"data":{"name":"a5"},"mark":{"type":"circle","color":"#000","size":16,"opacity":1},"encoding":{}}
      ]},
     {"width":264,"height":111,
      "encoding":{"x":{"field":"x","type":"quantitative","scale":{"domain":[0,356]},"axis":{"values":[0,50,100,150,200,250,300,350],"title":null,"ticks":true,"tickSize":-4,"tickWidth":1.5,"tickColor":"#000","labelPadding":14}},"y":{"field":"y","type":"quantitative","scale":{"domain":[-1,8]},"axis":{"values":[0,2,4,6,8],"title":null}}},
      "layer":[
       {"data":{"name":"p5"},"mark":{"type":"errorband","color":"#ABABAB","band":{"opacity":1}},"encoding":{"yError":{"field":"e"}}},
       {"data":{"name":"z"},"transform":[{"filter":"datum.g=='R'"}],"mark":{"type":"line","color":"#000","strokeWidth":1.5},"encoding":{}},
       {"data":{"name":"f"},"transform":[{"filter":"datum.g=='p5'"}],"mark":{"type":"line","color":"#000","strokeWidth":3,"interpolate":"monotone"},"encoding":{}},
       {"data":{"name":"p5"},"mark":{"type":"circle","color":"#000","size":16,"opacity":1},"encoding":{}}
      ]}
    ]}
   ]}
 ]},
{"title":{"text":"B","anchor":"start","fontSize":24,"fontWeight":"bold","offset":0},
 "vconcat":[
  {"title":{"text":"Number of steps","orient":"bottom","anchor":"middle","fontSize":16,"fontWeight":"normal","dx":26,"offset":8},"spacing":30,
   "hconcat":[
    {"width":262,"height":105,"title":{"text":"Adaptation","dx":3,"dy":23,"offset":4},
     "encoding":{"x":{"field":"x","type":"quantitative","scale":{"domain":[-6,214]},"axis":{"values":[0,30,60,90,120,150,180,210],"title":null,"ticks":true,"tickSize":-4,"tickWidth":1.5,"tickColor":"#000","labelPadding":9}},"y":{"field":"y","type":"quantitative","scale":{"domain":[-1.5,0.15]},"axis":{"values":[-1.5,-1,-0.5,0],"format":"~g","title":"Normalized Values","titlePadding":10,"titleY":44}}},
     "layer":[
      {"data":{"name":"z"},"transform":[{"filter":"datum.g=='BL'"}],"mark":{"type":"line","color":"#000","strokeWidth":1.5},"encoding":{}},
      {"data":{"name":"b"},"transform":[{"filter":"datum.t=='A'"}],"mark":{"type":"line","strokeWidth":3.5},"encoding":{"color":{"field":"s","type":"nominal","scale":{"domain":["o","g","b","p","k"],"range":["#F9A826","#1F9E79","#1F80D8","#C94B93","#000000"]},"legend":null}}},
      {"data":{"name":"b"},"transform":[{"filter":"datum.t=='A' && datum.e>0"}],"mark":{"type":"errorbar","ticks":true,"size":7,"thickness":3.5},"encoding":{"yError":{"field":"e"},"color":{"field":"s","type":"nominal","legend":null}}},
      {"data":{"name":"s"},"transform":[{"filter":"datum.t=='A'"}],"mark":{"type":"text","fontSize":15,"fontWeight":"bold","baseline":"middle","dy":2},"encoding":{"text":{"value":"*"},"color":{"field":"s","type":"nominal","legend":null}}}
     ]},
    {"width":265,"height":106,"title":{"text":"Post-Adaptation","dx":12,"offset":4},
     "encoding":{"x":{"field":"x","type":"quantitative","scale":{"domain":[-4,217]},"axis":{"values":[0,30,60,90,120,150,180,210],"title":null,"ticks":true,"tickSize":-4,"tickWidth":1.5,"tickColor":"#000","labelPadding":9}},"y":{"field":"y","type":"quantitative","scale":{"domain":[-0.2,1.5]},"axis":{"values":[0,0.5,1,1.5],"format":"~g","title":null}}},
     "layer":[
      {"data":{"name":"z"},"transform":[{"filter":"datum.g=='BR'"}],"mark":{"type":"line","color":"#000","strokeWidth":1.5},"encoding":{}},
      {"data":{"name":"b"},"transform":[{"filter":"datum.t=='P'"}],"mark":{"type":"line","strokeWidth":3.5},"encoding":{"color":{"field":"s","type":"nominal","scale":{"domain":["o","g","b","p","k"],"range":["#F9A826","#1F9E79","#1F80D8","#C94B93","#000000"]},"legend":null}}},
      {"data":{"name":"b"},"transform":[{"filter":"datum.t=='P' && datum.e>0"}],"mark":{"type":"errorbar","ticks":true,"size":7,"thickness":3.5},"encoding":{"yError":{"field":"e"},"color":{"field":"s","type":"nominal","legend":null}}},
      {"data":{"name":"s"},"transform":[{"filter":"datum.t=='P'"}],"mark":{"type":"text","fontSize":15,"fontWeight":"bold","baseline":"middle","dy":3},"encoding":{"text":{"value":"*"},"color":{"field":"s","type":"nominal","legend":null}}}
     ]}
   ]}
 ]}
],
"config":{
 "font":"Open Sans",
 "view":{"stroke":null},
 "axis":{"grid":false,"ticks":false,"domainColor":"#000","domainWidth":2,"labelColor":"#000","labelFontSize":15,"labelPadding":4,"labelFlush":false,"labelOverlap":false,"titleColor":"#000","titleFontSize":16,"titleFontWeight":"normal"},
 "title":{"fontSize":17,"fontWeight":"bold","color":"#000","offset":6},
 "locale":{"number":{"decimal":".","thousands":",","grouping":[3],"currency":["$",""],"minus":"-"}}
}
}
